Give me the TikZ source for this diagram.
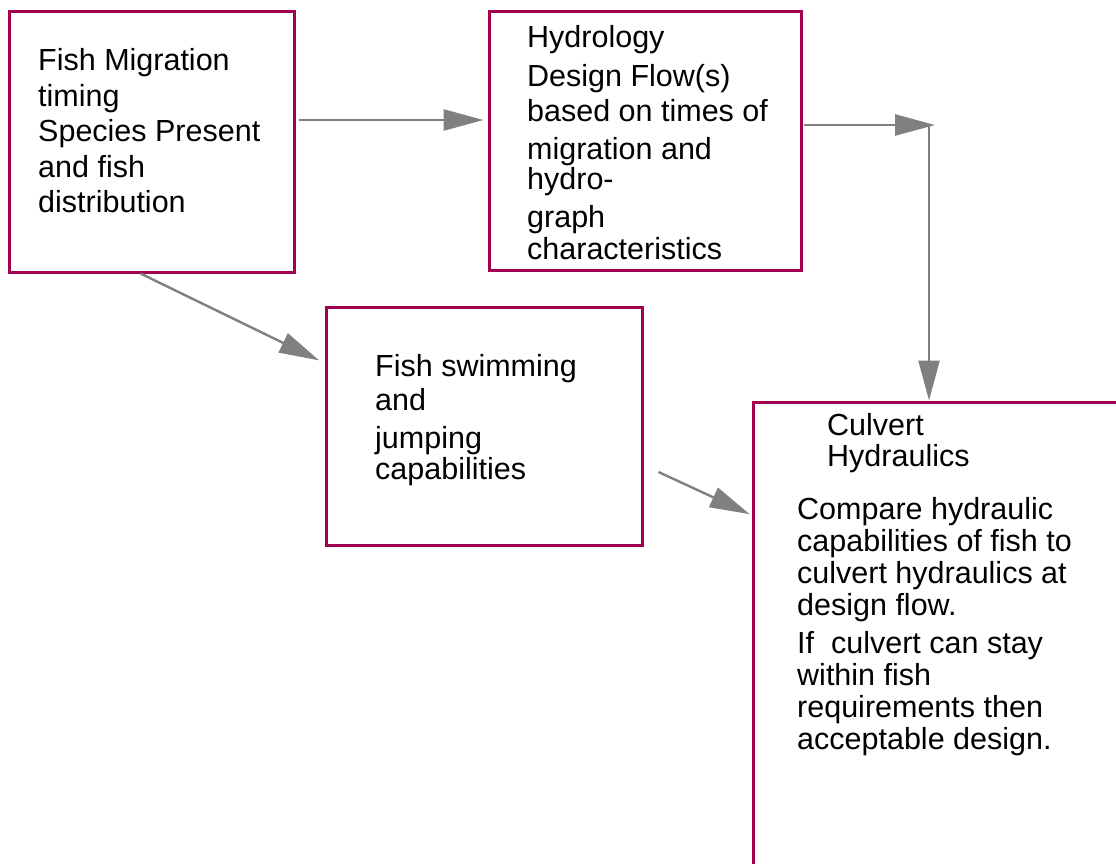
\documentclass[tikz,border=0pt]{standalone}
\usepackage{fontspec}
\setmainfont{Liberation Sans}
\usetikzlibrary{arrows.meta}
\definecolor{boxred}{RGB}{163,0,80}
\definecolor{flowgray}{RGB}{128,128,128}

\begin{document}
\begin{tikzpicture}
  [x=1pt,y=-1pt,
   box/.style={draw=boxred,line width=3pt,rectangle,inner sep=0pt},
   txt/.style={anchor=north west,align=left,inner sep=0pt},
   flow/.style={draw=flowgray,line width=2.4pt,-{Triangle[length=40pt,width=21pt]}}]
  \useasboundingbox (0,0) rectangle (1116,863);

  \node[box,minimum width=285pt,minimum height=261pt] (mig) at (151.5,141.5) {};
  \node[box,minimum width=312pt,minimum height=259pt] (hyd) at (645,141) {};
  \node[box,minimum width=316pt,minimum height=238pt] (swim) at (484,426) {};
  \node[box,minimum width=372pt,minimum height=473pt] (cul) at (939,638.5) {};

  \node[txt,font=\fontsize{30.5}{35.5}\selectfont] (migtxt) at (38,48.5)
    {Fish Migration\\timing\\Species Present\\and fish\\distribution};
  \node[txt,font=\fontsize{30.5}{35}\selectfont] (hydtxt) at (527,24.7)
    {Hydrology\\[4pt]Design Flow(s)\\based on times of\\[3pt]migration and\\[-5pt]hydro-\\[3pt]graph\\[-3pt]characteristics};
  \node[txt,font=\fontsize{30.5}{34}\selectfont] (swimtxt) at (375,353.7)
    {Fish swimming\\and\\[4pt]jumping\\[-3pt]capabilities};
  \node[txt,font=\fontsize{30.5}{31}\selectfont] (cultitle) at (827,413.4)
    {Culvert\\Hydraulics};
  \node[txt,font=\fontsize{30.5}{32}\selectfont] (cultxt) at (797,496.7)
    {Compare hydraulic\\capabilities of fish to\\culvert hydraulics at\\design flow.\\[6pt]If~~culvert can stay\\within fish\\requirements then\\acceptable design.};

  \coordinate (bend) at (929,125);

  \draw[flow,shorten <=3pt,shorten >=4pt] ([yshift=21.5pt]mig.east) -- ([yshift=21pt]hyd.west);
  \draw[flow,shorten <=1pt,shorten >=-6pt] ([yshift=16pt]hyd.east) -- (bend);
  \draw[flow] (bend) -- (bend |- cul.north);
  \draw[flow,shorten >=6pt] ([xshift=-11pt]mig.south) -- ([yshift=63pt]swim.west);
  \draw[flow,shorten >=2pt] ([shift={(15,46)}]swim.east) -- ([yshift=123.5pt]cul.west);

\end{tikzpicture}
\end{document}
